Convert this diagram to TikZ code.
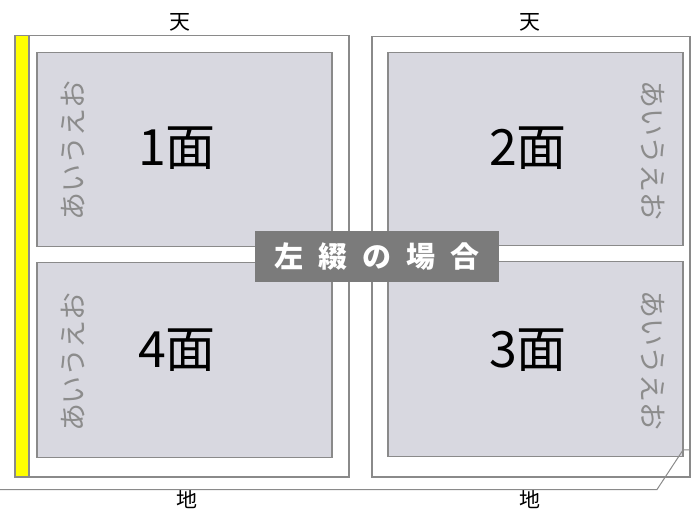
\documentclass[tikz,border=0pt]{standalone}
\usepackage{fontspec}
\newfontfamily\cjk{Noto Sans CJK JP}
\definecolor{linegray}{HTML}{8A8A8A}
\definecolor{panelfill}{HTML}{D8D8E0}
\definecolor{sidegray}{HTML}{8C8C8C}
\definecolor{labelfill}{HTML}{7B7B7B}
\definecolor{spine}{HTML}{FFFF00}
\begin{document}
\begin{tikzpicture}[x=1pt,y=-1pt,
  page/.style={draw=linegray,line width=1.5pt,fill=white,inner sep=0pt,anchor=north west},
  strip/.style={draw=linegray,line width=1.5pt,fill=spine,inner sep=0pt,anchor=north west},
  panel/.style={draw=linegray,line width=1.5pt,fill=panelfill,inner sep=0pt,anchor=north west},
  big/.style={font=\cjk\fontsize{50}{50}\selectfont,text=black,inner sep=0pt},
  side/.style={font=\cjk\fontsize{28}{28}\selectfont,text=sidegray,inner sep=0pt},
  edge/.style={font=\cjk\fontsize{21}{21}\selectfont,text=black,inner sep=0pt}]
\useasboundingbox (0,0) rectangle (691,510);
% pages
\node[page,minimum width=334pt,minimum height=441pt] (lp) at (14,35) {};
\node[strip,minimum width=14pt,minimum height=441pt] (ls) at (14,35) {};
\node[page,minimum width=332pt,minimum height=440pt] (rp) at (371,36) {};
\node[strip,minimum width=14pt,minimum height=440pt] (rs) at (689,36) {};
% panels
\node[panel,minimum width=295pt,minimum height=194pt] (p1) at (36,52) {};
\node[panel,minimum width=295pt,minimum height=195pt] (p4) at (36,262) {};
\node[panel,minimum width=295pt,minimum height=193pt] (p2) at (387,52) {};
\node[panel,minimum width=295pt,minimum height=195pt] (p3) at (387,261) {};
% big labels
\node[big] (t1) at (177,148) {1面};
\node[big] (t2) at (528,148) {2面};
\node[big] (t4) at (177,350) {4面};
\node[big] (t3) at (528,350) {3面};
% side texts
\node[side,rotate=90] (s1) at (73,151) {あいうえお};
\node[side,rotate=90] (s4) at (73,362) {あいうえお};
\node[side,rotate=-90] (s2) at (653,151) {あいうえお};
\node[side,rotate=-90] (s3) at (653,361) {あいうえお};
% top / bottom
\node[edge] (ten1) at (180,22) {天};
\node[edge] (ten2) at (530,22) {天};
\node[edge] (chi1) at (187,499) {地};
\node[edge] (chi2) at (530,499) {地};
% bottom line
\coordinate (b0) at (0,489.5);
\coordinate (b1) at (657,489.5);
\coordinate (b2) at (683,450);
\coordinate (b3) at (691,450);
\draw[linegray,line width=1pt] (b0) -- (b1) -- (b2) -- (b3);
% center label
\node[fill=labelfill,minimum width=244pt,minimum height=51pt,inner sep=0pt,
      font=\cjk\bfseries\fontsize{29}{29}\selectfont,text=white] (lab) at (377,256.5)
  {左\hspace{15pt}綴\hspace{15pt}の\hspace{15pt}場\hspace{15pt}合};
\end{tikzpicture}
\end{document}
